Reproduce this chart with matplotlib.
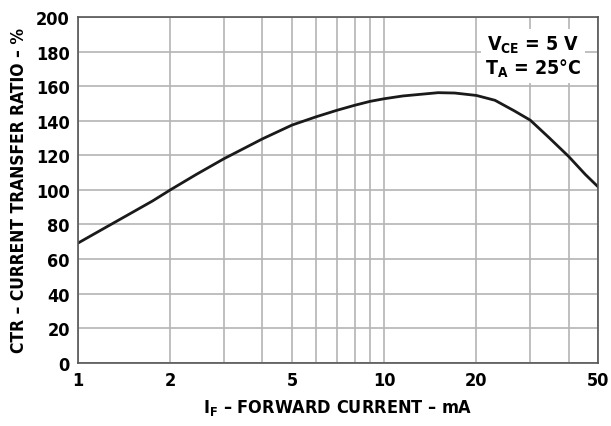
import numpy as np
import matplotlib
matplotlib.use("Agg")
import matplotlib.pyplot as plt
from matplotlib.ticker import FixedLocator, NullFormatter

# values
forward_current = [1, 1.25, 1.5, 1.75, 2, 2.43, 3, 3.5, 4, 5, 6, 7, 8, 9, 10, 11.5, 15, 17, 20,
                   23, 26.6, 30, 34.5, 40, 45.4, 50]
ctr_percent = [69.3, 79, 86.9, 93.6, 100, 108.9, 118.1, 124.2, 129.5, 137.5, 142.3, 146, 148.9, 151.2,
               152.7, 154.3, 156.2, 156, 154.6, 151.8, 145.7, 140.3, 130.3, 119.4, 108.9, 101.7]

x_ticks = [1, 2, 5, 10, 20, 50]
x_grid = [1, 2, 3, 4, 5, 6, 7, 8, 9, 10, 20, 30, 40, 50]
y_ticks = list(range(0, 201, 20))

plt.rcParams['font.family'] = ['DejaVu Sans']
plt.rcParams['font.stretch'] = 'condensed'
plt.rcParams['font.weight'] = 'bold'
plt.rcParams['mathtext.fontset'] = 'custom'
plt.rcParams['mathtext.rm'] = 'DejaVu Sans:weight=bold:stretch=condensed'

fig = plt.figure(figsize=(6.11, 4.27), dpi=100)
ax = fig.add_axes([0.128, 0.148, 0.851, 0.81])

ax.plot(forward_current, ctr_percent, color='#1a1a1a', lw=2, solid_joinstyle='round')

ax.set_xscale('log')
ax.set_xlim(1, 50)
ax.set_ylim(0, 200)
ax.xaxis.set_major_locator(FixedLocator(x_ticks))
ax.xaxis.set_minor_locator(FixedLocator(x_grid))
ax.xaxis.set_minor_formatter(NullFormatter())
ax.set_xticklabels([str(t) for t in x_ticks])
ax.set_yticks(y_ticks)

ax.grid(True, which='both', axis='x', color='#b4b4b4', lw=1.2)
ax.grid(True, which='major', axis='y', color='#b4b4b4', lw=1.2)
ax.set_axisbelow(True)
ax.tick_params(which='both', length=0, labelsize=13, pad=6)
for s in ax.spines.values():
    s.set_color('#555555')
    s.set_linewidth(1.2)

ax.set_xlabel(r'I$_\mathregular{F}$ – FORWARD CURRENT – mA', fontsize=13, fontweight='bold', labelpad=6)
ax.set_ylabel('CTR – CURRENT TRANSFER RATIO – %', fontsize=12.5, fontweight='bold', labelpad=6)

ax.text(0.875, 0.887, 'V$_\\mathregular{CE}$ = 5 V\nT$_\\mathregular{A}$ = 25°C', transform=ax.transAxes,
        ha='center', va='center', fontsize=14, fontweight='bold', linespacing=1.1,
        bbox=dict(facecolor='white', edgecolor='none', pad=3))

fig.savefig('out.png', dpi=100)
